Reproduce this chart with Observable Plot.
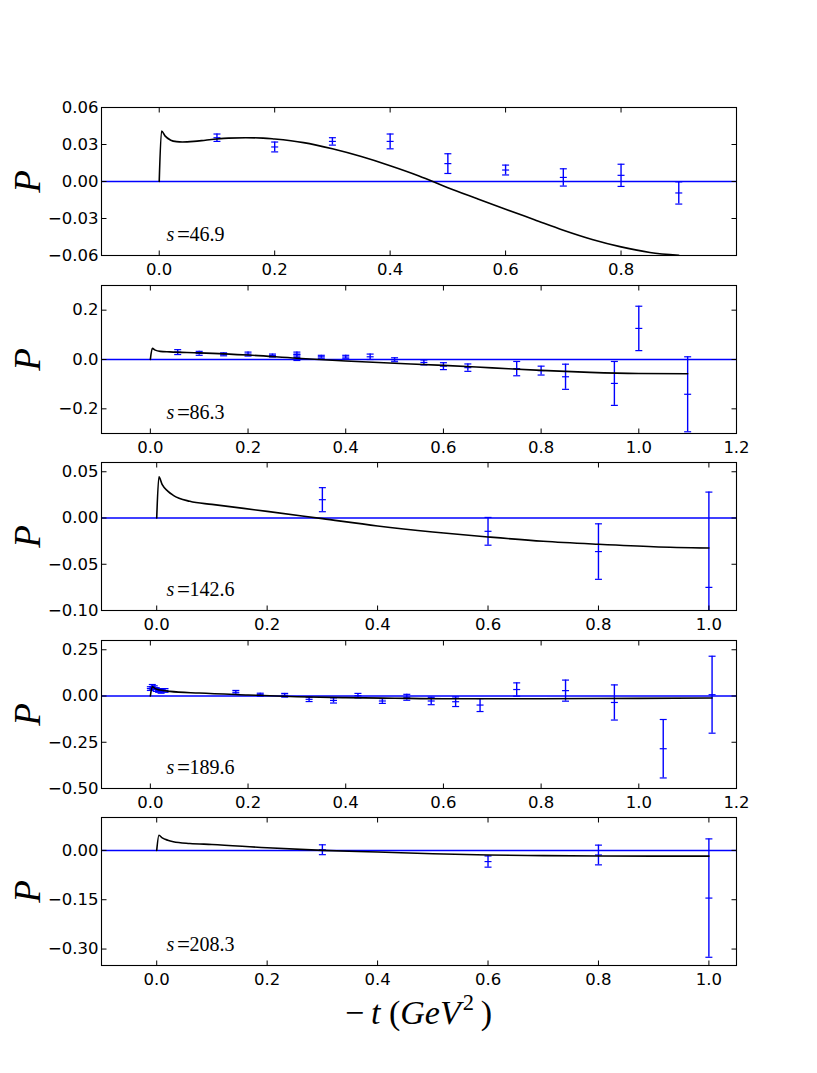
<!DOCTYPE html>
<html><head><meta charset="utf-8">
<script src="https://cdn.jsdelivr.net/npm/d3@7"></script>
<script src="https://cdn.jsdelivr.net/npm/@observablehq/plot@0.6"></script>
<style>
body{margin:0;background:#fff;}
#fig{position:relative;width:817px;height:1073px;background:#fff;overflow:hidden;}
#fig svg{position:absolute;left:0;}
#xlabel{position:absolute;left:0;width:837px;text-align:center;top:996px;font-family:"Liberation Serif",serif;font-size:34px;line-height:34px;color:#000;white-space:nowrap;}
#xlabel i{font-style:italic;}
#xlabel sup{font-size:0.66em;position:relative;top:-0.62em;vertical-align:baseline;margin-left:2px;}
</style></head>
<body><div id="fig"><div id="xlabel">&minus;&thinsp;<i>t</i>&nbsp;(<i>GeV</i><sup>2</sup>&thinsp;)</div></div>
<script>
// ---- data ----
const sLabels = ["46.9", "86.3", "142.6", "189.6", "208.3"];

const p1X = [0.1, 0.2, 0.3, 0.4, 0.5, 0.6, 0.7, 0.8, 0.9];
const p1Y = [0.0355, 0.028, 0.0325, 0.0325, 0.0145, 0.0093, 0.0033, 0.005, -0.0093];
const p1E = [0.003, 0.004, 0.003, 0.006, 0.008, 0.004, 0.007, 0.009, 0.009];
const c1X = [0, 0.004, 0.01, 0.02, 0.03, 0.04, 0.06, 0.08, 0.1, 0.12, 0.15, 0.18, 0.2, 0.25, 0.3, 0.35, 0.4, 0.45, 0.5, 0.55, 0.6, 0.65, 0.7, 0.75, 0.8, 0.85, 0.9];
const c1Y = [0, 0.041, 0.037, 0.0335, 0.0323, 0.032, 0.0325, 0.0335, 0.0345, 0.0352, 0.0355, 0.0352, 0.0344, 0.0315, 0.0265, 0.0202, 0.0128, 0.0045, -0.005, -0.0138, -0.0225, -0.031, -0.0395, -0.047, -0.053, -0.0575, -0.0598];

const p2X = [0.056, 0.1, 0.15, 0.2, 0.25, 0.3, 0.3, 0.35, 0.4, 0.45, 0.5, 0.56, 0.6, 0.65, 0.75, 0.8, 0.85, 0.95, 1.0, 1.1];
const p2Y = [0.03, 0.025, 0.021, 0.022, 0.016, 0.022, 0.008, 0.011, 0.01, 0.011, -0.001, -0.012, -0.027, -0.033, -0.037, -0.045, -0.07, -0.097, 0.126, -0.141];
const p2E = [0.01, 0.008, 0.006, 0.008, 0.006, 0.008, 0.012, 0.006, 0.007, 0.011, 0.008, 0.01, 0.014, 0.015, 0.029, 0.018, 0.051, 0.089, 0.09, 0.152];
const c2X = [0, 0.004, 0.01, 0.02, 0.04, 0.1, 0.2, 0.3, 0.4, 0.5, 0.6, 0.7, 0.8, 0.9, 1.0, 1.1];
const c2Y = [0, 0.045, 0.038, 0.033, 0.031, 0.027, 0.018, 0.005, -0.006, -0.015, -0.024, -0.034, -0.044, -0.052, -0.0565, -0.0575];

const p3X = [0.3, 0.6, 0.8, 1.0];
const p3Y = [0.0198, -0.0144, -0.0363, -0.075];
const p3E = [0.013, 0.015, 0.03, 0.103];
const c3X = [0, 0.004, 0.01, 0.02, 0.03, 0.06, 0.1, 0.2, 0.3, 0.4, 0.5, 0.6, 0.7, 0.8, 0.9, 1.0];
const c3Y = [0, 0.0445, 0.036, 0.029, 0.0245, 0.018, 0.0147, 0.0072, -0.0007, -0.0086, -0.0151, -0.0205, -0.0252, -0.0284, -0.031, -0.0324];

const p4X = [0.0, 0.004, 0.008, 0.012, 0.017, 0.022, 0.03, 0.175, 0.225, 0.275, 0.325, 0.375, 0.425, 0.475, 0.525, 0.575, 0.625, 0.675, 0.75, 0.85, 0.95, 1.05, 1.15];
const p4Y = [0.04, 0.05, 0.045, 0.035, 0.03, 0.025, 0.03, 0.02, 0.007, 0.004, -0.018, -0.024, 0.002, -0.027, -0.007, -0.027, -0.031, -0.049, 0.035, 0.029, -0.035, -0.285, 0.007];
const p4E = [0.01, 0.012, 0.01, 0.01, 0.01, 0.01, 0.01, 0.01, 0.008, 0.01, 0.012, 0.014, 0.012, 0.013, 0.016, 0.02, 0.026, 0.035, 0.036, 0.057, 0.095, 0.158, 0.208];
const c4X = [0, 0.004, 0.01, 0.02, 0.04, 0.1, 0.2, 0.3, 0.4, 0.5, 0.6, 0.8, 1.0, 1.15];
const c4Y = [0, 0.05, 0.04, 0.032, 0.025, 0.016, 0.0055, -0.004, -0.009, -0.012, -0.0146, -0.0146, -0.0128, -0.011];

const p5X = [0.3, 0.6, 0.8, 1.0];
const p5Y = [0.002, -0.034, -0.014, -0.145];
const p5E = [0.015, 0.017, 0.03, 0.18];
const c5X = [0, 0.004, 0.01, 0.02, 0.03, 0.06, 0.1, 0.2, 0.3, 0.4, 0.5, 0.6, 0.7, 0.8, 0.9, 1.0];
const c5Y = [0, 0.046, 0.038, 0.031, 0.0265, 0.021, 0.018, 0.008, 0, -0.005, -0.01, -0.014, -0.016, -0.017, -0.0175, -0.0175];

// axis settings
const xTicks1 = [0, 0.2, 0.4, 0.6, 0.8];
const xTicks2 = [0, 0.2, 0.4, 0.6, 0.8, 1.0, 1.2];
const xTicks3 = [0, 0.2, 0.4, 0.6, 0.8, 1.0];
const yTicks1 = [-0.06, -0.03, 0, 0.03, 0.06];
const yTicks2 = [-0.2, 0, 0.2];
const yTicks3 = [-0.1, -0.05, 0, 0.05];
const yTicks4 = [-0.5, -0.25, 0, 0.25];
const yTicks5 = [-0.3, -0.15, 0];

// ---- drawing ----
const BLUE = "#0000ff";
const MT = 14;
const seg = (dx1, dy1, dx2, dy2) => ({
  draw(ctx, size) {
    const l = Math.sqrt(size / Math.PI);
    ctx.moveTo(dx1 * l, dy1 * l);
    ctx.lineTo(dx2 * l, dy2 * l);
  }
});
const tickUp = seg(0, 0, 0, -1), tickDown = seg(0, 0, 0, 1);
const tickRight = seg(0, 0, 1, 0), tickLeft = seg(0, 0, -1, 0);
const hbar = seg(-1, 0, 1, 0);

function panel(cfg) {
  const pts = cfg.px.map((x, i) => ({x, y: cfg.py[i], e: cfg.pe[i]}));
  const curve = cfg.cx.map((x, i) => ({x, y: cfg.cy[i]}));
  const [y0, y1] = cfg.yDomain;
  const caps = pts.flatMap(d => [d.y - d.e, d.y + d.e].map(y => ({x: d.x, y})))
    .filter(d => d.y >= y0 && d.y <= y1);
  const tickOpts = {r: 5, stroke: "black", fill: "none", strokeWidth: 1};
  const svg = Plot.plot({
    width: 817, height: 148 + MT + 25,
    marginLeft: 101, marginRight: 81, marginTop: MT, marginBottom: 25,
    style: {fontFamily: "DejaVu Sans", fontSize: "16.5px", background: "transparent", color: "black"},
    x: {domain: cfg.xDomain, ticks: cfg.xTicks, tickFormat: d3.format(".1f"), tickSize: 0, tickPadding: 8, label: null},
    y: {domain: cfg.yDomain, ticks: cfg.yTicks, tickFormat: d3.format(cfg.yFmt), tickSize: 0, tickPadding: 3, label: null, clamp: true},
    marks: [
      Plot.ruleY([0], {stroke: BLUE, strokeWidth: 1.5}),
      Plot.ruleX(pts, {x: "x", y1: d => d.y - d.e, y2: d => d.y + d.e, stroke: BLUE, strokeWidth: 1.4}),
      Plot.dot(caps, {x: "x", y: "y", symbol: hbar, r: 3.5, stroke: BLUE, fill: "none", strokeWidth: 1.2}),
      Plot.dot(pts, {x: "x", y: "y", symbol: hbar, r: 3.5, stroke: BLUE, fill: "none", strokeWidth: 1.2}),
      Plot.line(curve, {x: "x", y: "y", stroke: "black", strokeWidth: 1.6, curve: "monotone-x"}),
      Plot.frame({stroke: "black", strokeWidth: 1.1}),
      Plot.dot(cfg.xTicks, {x: d => d, frameAnchor: "bottom", symbol: tickUp, ...tickOpts}),
      Plot.dot(cfg.xTicks, {x: d => d, frameAnchor: "top", symbol: tickDown, ...tickOpts}),
      Plot.dot(cfg.yTicks, {y: d => d, frameAnchor: "left", symbol: tickRight, ...tickOpts}),
      Plot.dot(cfg.yTicks, {y: d => d, frameAnchor: "right", symbol: tickLeft, ...tickOpts}),
      Plot.text(["P"], {text: d => d, frameAnchor: "left", dx: -73.5, rotate: -90, fontSize: 37, fontStyle: "italic", fontFamily: "Liberation Serif", textAnchor: "middle", lineAnchor: "middle"}),
      Plot.text(["s"], {text: d => d, frameAnchor: "bottom-left", dx: 65, dy: -21, fontSize: 20, fontStyle: "italic", fontFamily: "Liberation Serif", textAnchor: "start", lineAnchor: "middle"}),
      Plot.text(["="], {text: d => d, frameAnchor: "bottom-left", dx: 75.5, dy: -21, fontSize: 23, fontFamily: "Liberation Serif", textAnchor: "start", lineAnchor: "middle"}),
      Plot.text([cfg.s], {text: d => d, frameAnchor: "bottom-left", dx: 88, dy: -21, fontSize: 20, fontFamily: "Liberation Serif", textAnchor: "start", lineAnchor: "middle"})
    ]
  });
  svg.style.top = (cfg.top - MT) + "px";
  document.getElementById("fig").appendChild(svg);
}

panel({top: 107, xDomain: [-0.1, 1.0], xTicks: xTicks1, yDomain: [-0.06, 0.06], yTicks: yTicks1, yFmt: ".2f",
  px: p1X, py: p1Y, pe: p1E, cx: c1X, cy: c1Y, s: sLabels[0]});
panel({top: 285, xDomain: [-0.1, 1.2], xTicks: xTicks2, yDomain: [-0.3, 0.3], yTicks: yTicks2, yFmt: ".1f",
  px: p2X, py: p2Y, pe: p2E, cx: c2X, cy: c2Y, s: sLabels[1]});
panel({top: 462, xDomain: [-0.1, 1.05], xTicks: xTicks3, yDomain: [-0.1, 0.06], yTicks: yTicks3, yFmt: ".2f",
  px: p3X, py: p3Y, pe: p3E, cx: c3X, cy: c3Y, s: sLabels[2]});
panel({top: 640, xDomain: [-0.1, 1.2], xTicks: xTicks2, yDomain: [-0.5, 0.3], yTicks: yTicks4, yFmt: ".2f",
  px: p4X, py: p4Y, pe: p4E, cx: c4X, cy: c4Y, s: sLabels[3]});
panel({top: 817, xDomain: [-0.1, 1.05], xTicks: xTicks3, yDomain: [-0.35, 0.1], yTicks: yTicks5, yFmt: ".2f",
  px: p5X, py: p5Y, pe: p5E, cx: c5X, cy: c5Y, s: sLabels[4]});
</script>
</body></html>
